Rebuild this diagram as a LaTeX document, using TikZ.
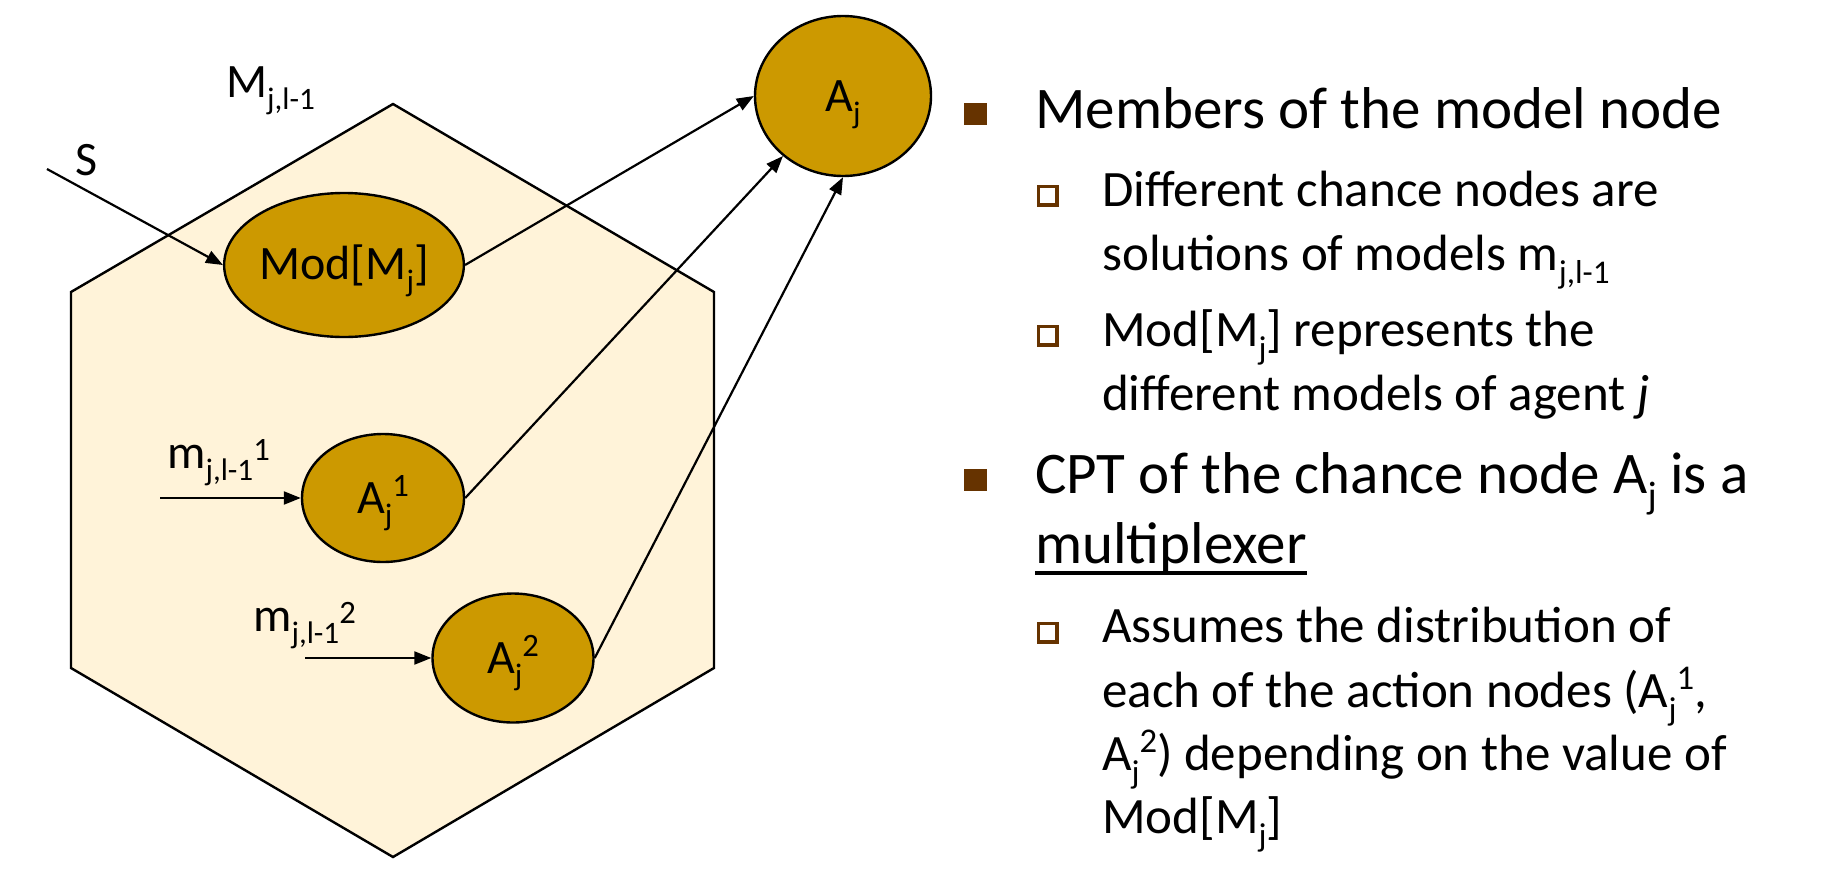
\documentclass[tikz,border=0pt]{standalone}
\usepackage{fontspec}
\setmainfont{Carlito}
\usetikzlibrary{arrows.meta,shapes.geometric}
\definecolor{hexfill}{HTML}{FFF3D9}
\definecolor{gold}{HTML}{CC9900}
\definecolor{bul}{HTML}{663300}
\newcommand\lo[1]{\raisebox{-0.26em}[0pt][0pt]{\scalebox{0.65}{#1}}}
\newcommand\hi[2][0.35em]{\raisebox{#1}[0pt][0pt]{\scalebox{0.68}{#2}}}
\begin{document}
\begin{tikzpicture}[x=1pt,y=-1pt,
  chance/.style={ellipse,draw=black,line width=2.4pt,fill=gold,inner sep=0pt,font=\fontsize{48}{54}\selectfont},
  arr/.style={-{Triangle[length=17pt,width=13pt]},line width=2.2pt},
  lbl/.style={anchor=base west,inner sep=0pt,font=\fontsize{48}{54}\selectfont},
  big/.style={anchor=base west,inner sep=0pt,font=\fontsize{59}{64}\selectfont},
  small/.style={anchor=base west,inner sep=0pt,font=\fontsize{51}{56}\selectfont},
  subbul/.pic={\fill[bul] (0,0) rectangle (22,22); \fill[white] (2.5,2.5) rectangle (18,18);}]
\useasboundingbox (0,0) rectangle (1823,868);
\fill[white] (0,0) rectangle (1823,868);
\draw[fill=hexfill,line width=2.4pt] (393,104) -- (714,292) -- (714,668) -- (393,857) -- (71,668) -- (71,292) -- cycle;
\node[chance,minimum width=176pt,minimum height=160pt] (aj) at (843,96) {A\lo{j}};
\node[chance,minimum width=210pt,minimum height=144pt] (mod) at (344,265) {Mod[M\lo{j}]};
\node[chance,minimum width=162pt,minimum height=128pt] (a1) at (383,498) {A\lo{j}\hi{1}};
\node[chance,minimum width=161pt,minimum height=129pt] (a2) at (513,658) {A\lo{j}\hi{2}};
\node[lbl] (slbl) at (75,175) {S};
\node[lbl] (mlbl) at (226,97) {M\lo{j,l-1}};
\node[lbl] (m1lbl) at (167,468) {m\lo{j,l-1}\hi[0.15em]{1}};
\node[lbl] (m2lbl) at (253,631) {m\lo{j,l-1}\hi[0.15em]{2}};
\coordinate (s0) at (47,169);
\coordinate (m1s) at (160,498);
\coordinate (m2s) at (305,658);
\draw[arr] (s0) -- (mod.west);
\draw[arr] (mod.east) -- (aj.west);
\draw[arr] (a1.east) -- (aj.-135);
\draw[arr] (a2.east) -- (aj.south);
\draw[arr] (m1s) -- (a1.west);
\draw[arr] (m2s) -- (a2.west);
\fill[bul] (964,103) rectangle (987,125);
\fill[bul] (964,469) rectangle (987,491);
\pic at (1037,185) {subbul};
\pic at (1037,325) {subbul};
\pic at (1037,622) {subbul};
\node[big] (t1) at (1035,128) {Members of the model node};
\node[small] (t2) at (1102,206) {Different chance nodes are};
\node[small] (t3) at (1102,270) {solutions of models m\lo{j,l-1}};
\node[small] (t4) at (1102,346) {Mod[M\lo{j}] represents the};
\node[small] (t5) at (1102,410) {different models of agent \textit{j}};
\node[big] (t6) at (1035,493) {CPT of the chance node A\lo{j} is a};
\node[big] (t7) at (1035,563) {multiplexer};
\draw[line width=3.5pt] ([yshift=-10pt]t7.base west) -- ([yshift=-10pt]t7.base east);
\node[small] (t8) at (1102,642) {Assumes the distribution of};
\node[small] (t9) at (1102,707) {each of the action nodes (A\lo{j}\hi{1},};
\node[small] (t10) at (1102,770) {A\lo{j}\hi{2}) depending on the value of};
\node[small] (t11) at (1102,833) {Mod[M\lo{j}]};
\end{tikzpicture}
\end{document}
